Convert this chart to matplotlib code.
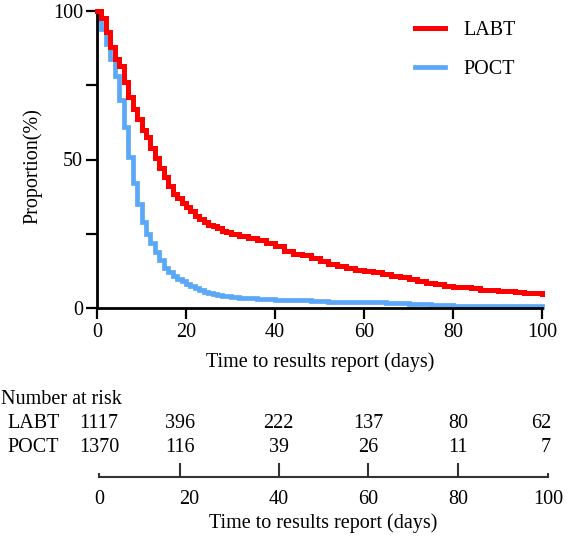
import matplotlib
matplotlib.use("Agg")
import matplotlib.pyplot as plt
import matplotlib.transforms as mtransforms

plt.rcParams['font.family'] = ['Liberation Serif', 'DejaVu Serif']

# ---- data ----
groups = ["LABT", "POCT"]
labt_t = [0, 1, 2, 3, 4, 5, 6, 7, 8, 9, 10, 11, 12, 13, 14, 15, 16, 17, 18, 19, 20,
          21, 22, 23, 24, 25, 26, 27, 28, 29, 30, 32, 34, 36, 38, 40, 42, 44, 46, 48,
          50, 52, 54, 56, 58, 60, 62, 64, 66, 68, 70, 72, 74, 76, 78, 80, 82, 84, 86,
          88, 90, 92, 94, 96, 98, 100]
labt_v = [100, 97.5, 93, 88, 84, 81.5, 76, 71, 67, 63.5, 60, 57.5, 54, 50.5, 47, 44, 41,
          38.5, 37, 35.5, 34, 32.5, 31, 30, 29, 28, 27.5, 26.8, 26, 25.5, 25, 24.3, 23.6,
          22.8, 21.8, 20.8, 19.2, 18.3, 17.8, 16.8, 15.8, 14.8, 14, 13.5, 12.8, 12.3, 12,
          11.5, 10.9, 10.3, 9.8, 9, 8.5, 8, 7.5, 7.2, 7, 6.6, 6.2, 6, 5.8, 5.6, 5.4, 5.1,
          4.9, 4.7]
poct_t = [0, 0.6, 1, 2, 3, 4, 5, 6, 7, 8, 9, 10, 11, 12, 13, 14, 15, 16, 17, 18, 19, 20,
          21, 22, 23, 24, 25, 26, 27, 28, 30, 32, 34, 36, 38, 40, 44, 48, 52, 56, 60, 65,
          70, 75, 80, 85, 90, 95, 100]
poct_v = [100, 97, 94, 89, 84, 78, 70, 61, 51, 42, 35, 29, 25, 22, 19, 16, 13.5, 12, 10.8,
          9.8, 9, 8.2, 7.3, 6.6, 6, 5.5, 5.1, 4.7, 4.4, 4.1, 3.8, 3.5, 3.3, 3.1, 2.9, 2.8,
          2.6, 2.3, 2.1, 2.0, 1.9, 1.6, 1.3, 1.0, 0.8, 0.7, 0.6, 0.55, 0.5]
risk_times = [0, 18, 40, 60, 80, 100]
risk_labt = [1117, 396, 222, 137, 80, 62]
risk_poct = [1370, 116, 39, 26, 11, 7]
xticks = [0, 20, 40, 60, 80, 100]

W, H = 569, 536
fig = plt.figure(figsize=(W / 100, H / 100), dpi=100)

def fx(px):
    return px / W

def fy(py):
    return 1 - py / H

FS = 14.5
red = '#ff0000'
blue = '#5aa8f7'

# ---- main KM axes ----
ax = fig.add_axes([fx(97), fy(308), fx(542) - fx(97), fy(11) - fy(308)])
ax.step(labt_t, labt_v, where='post', color=red, lw=3.6, clip_on=False, label=groups[0],
        solid_joinstyle='miter', zorder=3)
ax.step(poct_t, poct_v, where='post', color=blue, lw=3.4, clip_on=False, label=groups[1],
        solid_joinstyle='miter', zorder=2)
ax.set_xlim(0, 100)
ax.set_ylim(0, 100)
ax.set_xticks(xticks)
ax.set_yticks([0, 50, 100])
ax.set_yticks([25, 75], minor=True)
for s in ['top', 'right']:
    ax.spines[s].set_visible(False)
for s in ['left', 'bottom']:
    ax.spines[s].set_linewidth(2)
ax.tick_params(which='both', direction='out', length=8, width=1.6, labelsize=FS, pad=2)
ax.tick_params(axis='x', pad=3)
ax.set_xlabel('Time to results report (days)', fontsize=FS)
ax.xaxis.set_label_coords(fx(320), fy(362), transform=fig.transFigure)
ax.xaxis.label.set_va('center')
ax.set_ylabel('Proportion(%)', fontsize=FS)
ax.yaxis.set_label_coords(fx(33), fy(166), transform=fig.transFigure)
ax.yaxis.label.set_va('center')
ax.yaxis.label.set_ha('center')
leg = ax.legend(loc='upper left', bbox_to_anchor=(fx(415), fy(21)), bbox_transform=fig.transFigure,
                frameon=False, fontsize=FS, handlelength=1.5, handletextpad=0.9,
                labelspacing=1.0, borderpad=0, borderaxespad=0)

# ---- risk table axis ----
ax2 = fig.add_axes([fx(99), fy(477), fx(548) - fx(99), 0.02])
ax2.set_xlim(0, 100)
ax2.set_ylim(0, 1)
for s in ['top', 'right', 'left']:
    ax2.spines[s].set_visible(False)
ax2.spines['bottom'].set_linewidth(1.5)
ax2.spines['bottom'].set_color('#333333')
ax2.set_yticks([])
ax2.xaxis.remove_overlapping_locs = False
ax2.set_xticks(xticks)
ax2.set_xticks(risk_times[1:-1], minor=True)
ax2.tick_params(axis='x', which='major', direction='in', length=3, width=1.5, labelsize=FS,
                pad=9, colors='#333333', labelcolor='black')
ax2.tick_params(axis='x', which='minor', direction='in', length=10, width=1.5, colors='#333333')
for i, tk in enumerate(ax2.xaxis.get_major_ticks()):
    if 0 < i < len(xticks) - 1:
        tk.tick1line.set_visible(False)
ax2.set_xlabel('Time to results report (days)', fontsize=FS)
ax2.xaxis.set_label_coords(fx(323), fy(523), transform=fig.transFigure)
ax2.xaxis.label.set_va('center')
ax2.patch.set_alpha(0)

trans = mtransforms.blended_transform_factory(ax2.transData, fig.transFigure)
fig.text(fx(1), fy(399), 'Number at risk', fontsize=FS, ha='left', va='center')
for row, (name, vals) in enumerate([(groups[0], risk_labt), (groups[1], risk_poct)]):
    y = fy(423 + 24 * row)
    fig.text(fx(7), y, name, fontsize=FS, ha='left', va='center')
    for i, (t, v) in enumerate(zip(risk_times, vals)):
        ha = 'right' if i == len(risk_times) - 1 else 'center'
        xx = t + 0.7 if ha == 'right' else t
        fig.text(xx, y, str(v), fontsize=FS, ha=ha, va='center', transform=trans)

fig.savefig('out.png', dpi=100)
